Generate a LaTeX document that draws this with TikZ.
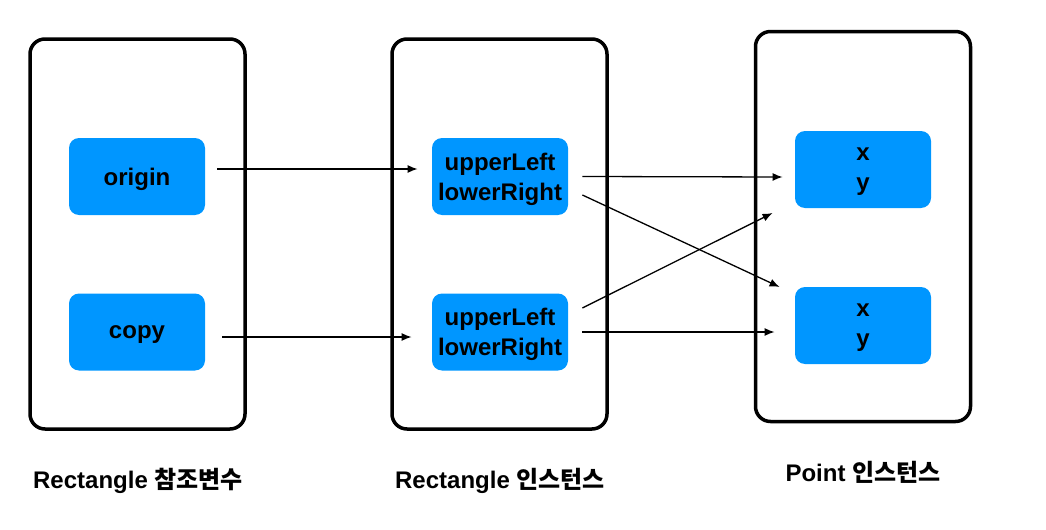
\documentclass[tikz,border=0pt]{standalone}
\usepackage{fontspec}
\setmainfont{Liberation Sans}
\newfontfamily\kofont{Noto Sans CJK KR}
\usetikzlibrary{arrows.meta}
\definecolor{fieldblue}{RGB}{0,150,255}
\tikzset{
frame/.style={draw, line width=1.75pt, rounded corners=7.5pt,
  minimum width=107.5pt, minimum height=195pt},
field/.style={fill=fieldblue, rounded corners=5pt, inner sep=0pt,
  minimum width=68pt, minimum height=38.5pt, align=center, text depth=0pt,
  font=\bfseries\fontsize{12}{15}\selectfont},
ref/.style={-{Latex[length=5pt,width=4pt]}, line width=0.65pt},
caption/.style={font=\bfseries\fontsize{12}{15}\selectfont}
}

\begin{document}
\begin{tikzpicture}[x=0.5pt,y=-0.5pt]
  \useasboundingbox (0,0) rectangle (1046,530);
  \node[frame] (refs) at (137.5,234) {};
  \node[frame] (rects) at (499.5,234) {};
  \node[frame] (points) at (863,226.5) {};

  \node[field] (origin) at (137,176.5) {origin};
  \node[field] (copy) at (137,332) {copy};
  \node[field] (rectA) at (500,176.5) {upperLeft\\lowerRight};
  \node[field] (rectB) at (500,332) {upperLeft\\lowerRight};
  \node[field] (ptA) at (863,169.5) {x\\y};
  \node[field] (ptB) at (863,325.5) {x\\y};

  \draw[ref] ([xshift=6pt,yshift=3.75pt]origin.east) -- ([xshift=-7pt,yshift=3.75pt]rectA.west);
  \draw[ref] ([xshift=8.5pt,yshift=-2.5pt]copy.east) -- ([xshift=-10pt,yshift=-2.5pt]rectB.west);
  \draw[ref] ([xshift=7pt]rectA.east) -- ([xshift=-6pt,yshift=-3.75pt]ptA.west);
  \draw[ref] ([xshift=7pt,yshift=-9.25pt]rectA.east) -- ([xshift=-7.5pt,yshift=19.25pt]ptB.west);
  \draw[ref] ([xshift=7pt,yshift=12pt]rectB.east) -- ([xshift=-11pt,yshift=-21.75pt]ptA.west);
  \draw[ref] ([xshift=7pt]rectB.east) -- ([xshift=-10pt,yshift=-3.25pt]ptB.west);

  \node[caption] (refsname) at (138,481) {Rectangle {\kofont 참조변수}};
  \node[caption] (rectsname) at (500,481) {Rectangle {\kofont 인스턴스}};
  \node[caption] (pointsname) at (863,472) {Point {\kofont 인스턴스}};
\end{tikzpicture}
\end{document}
